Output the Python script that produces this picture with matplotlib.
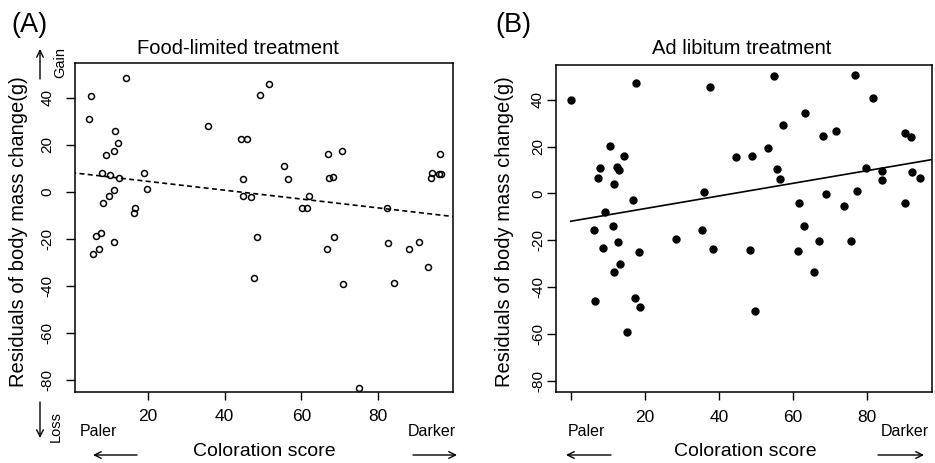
import matplotlib.pyplot as plt
import numpy as np

plt.rcParams['font.family'] = ['Liberation Sans', 'DejaVu Sans']

# (A) food-limited treatment: coloration score vs residual mass change
food_x = [14.3, 5.3, 4.7, 11.5, 12.2, 11.2, 9.2, 8.1, 10.1, 12.4, 19.0, 19.7, 11.2, 9.9,
          8.3, 16.7, 16.5, 6.4, 7.9, 11.2, 5.6, 7.2, 35.6, 44.2, 45.9, 44.8, 44.8, 46.8,
          48.5, 49.2, 51.6, 55.5, 56.4, 62.0, 60.2, 61.4, 67.0, 70.6, 67.1, 68.3, 82.4,
          68.5, 66.7, 82.7, 88.0, 90.7, 96.1, 94.0, 95.8, 96.3, 93.7, 47.6, 70.8, 84.1,
          93.0, 75.1]
food_y = [48.4, 40.9, 31.2, 26.0, 20.9, 17.4, 15.6, 8.1, 7.4, 6.0, 8.1, 1.1, 0.7, -1.8,
          -4.5, -6.9, -9.1, -18.6, -17.4, -21.4, -26.5, -24.1, 28.2, 22.7, 22.7, 5.7, -1.8,
          -2.1, -19.3, 41.3, 46.1, 11.1, 5.5, -1.8, -6.7, -6.7, 16.0, 17.4, 6.0, 6.4, -6.9,
          -19.3, -24.1, -21.8, -24.1, -21.4, 16.0, 8.2, 7.8, 7.8, 6.0, -36.7, -39.0, -38.6,
          -31.9, -83.4]
food_fit = (8.26, -0.188)  # intercept, slope (dashed line)

# (B) ad libitum treatment
adlib_x = [0.0, 17.7, 37.6, 10.7, 14.3, 8.0, 12.6, 12.9, 7.3, 11.7, 44.6, 36.0, 16.8, 9.2,
           6.3, 11.5, 12.7, 8.7, 18.3, 28.5, 35.4, 38.5, 13.3, 11.7, 6.6, 17.4, 18.8, 15.2,
           48.5, 49.9, 61.4, 63.0, 65.8, 67.0, 75.8, 61.8, 73.9, 90.4, 54.9, 76.8, 81.8,
           63.2, 57.4, 68.2, 71.6, 90.3, 91.9, 53.4, 48.9, 55.8, 56.6, 79.8, 84.1, 84.1,
           92.3, 94.4, 69.1, 77.3]
adlib_y = [40.1, 47.0, 45.4, 20.4, 16.0, 10.8, 11.3, 10.1, 6.7, 4.1, 15.6, 0.4, -2.9, -8.1,
           -15.7, -14.1, -20.7, -23.4, -24.9, -19.7, -15.7, -23.7, -30.2, -33.6, -45.9,
           -44.7, -48.4, -59.3, -24.3, -50.3, -24.6, -13.9, -33.6, -20.2, -20.2, -4.2, -5.3,
           -3.9, 50.0, 50.4, 40.7, 34.3, 29.1, 24.6, 26.8, 25.8, 24.3, 19.4, 16.0, 10.6,
           6.0, 11.0, 9.6, 5.7, 9.3, 6.4, -0.3, 0.9]
adlib_fit = (-11.9, 0.27)

yticks = [-80, -60, -40, -20, 0, 20, 40]

W, H = 935, 463
fig = plt.figure(figsize=(W / 100, H / 100), dpi=100)


def box(x0, y0, x1, y1):
    # pixel box measured from the top-left corner
    return [x0 / W, 1 - y1 / H, (x1 - x0) / W, (y1 - y0) / H]


def fp(x, y):
    return (x / W, 1 - y / H)


def arrow(x0, y0, x1, y1):
    fig.add_artist(plt.matplotlib.patches.FancyArrowPatch(
        fp(x0, y0), fp(x1, y1), transform=fig.transFigure, arrowstyle='->',
        mutation_scale=12, lw=1.0, color='black', shrinkA=0, shrinkB=0))


def style(ax, xlim, xticks, xlabels, ypad):
    ax.set_xlim(*xlim)
    ax.set_ylim(-85, 55)
    ax.set_xticks(xticks)
    ax.set_xticklabels(xlabels, fontsize=12.5)
    ax.set_yticks(yticks)
    ax.set_yticklabels([str(v) for v in yticks], rotation=90, va='center', fontsize=11)
    ax.tick_params(axis='x', direction='out', length=6, width=1, pad=6.5)
    ax.tick_params(axis='y', direction='out', length=6.5, width=1, pad=ypad)
    for s in ax.spines.values():
        s.set_linewidth(1.1)


# ---- panel A
ax1 = fig.add_axes(box(75, 62.7, 453.3, 391.7))
ax1.plot(food_x, food_y, 'o', mfc='none', mec='black', ms=4.3, mew=1.1)
xs = np.array([0, 100])
ax1.plot(xs, food_fit[0] + food_fit[1] * xs, color='black', lw=1.2, ls=(0, (3, 2)))
style(ax1, (1, 99.6), [20, 40, 60, 80], ['20', '40', '60', '80'], 8.5)

# ---- panel B
ax2 = fig.add_axes(box(556, 64.7, 932.3, 392.3))
ax2.plot(adlib_x, adlib_y, 'o', color='black', ms=5)
ax2.plot(xs, adlib_fit[0] + adlib_fit[1] * xs, color='black', lw=1.2)
style(ax2, (-4, 97.7), [0, 20, 40, 60, 80], ['', '20', '40', '60', '80'], 1.5)

# labels and titles
fig.text(*fp(29, 25), '(A)', fontsize=19.5, ha='center', va='center')
fig.text(*fp(513, 25), '(B)', fontsize=19.5, ha='center', va='center')
fig.text(*fp(238, 48), 'Food-limited treatment', fontsize=14.5, ha='center', va='center')
fig.text(*fp(742, 48), 'Ad libitum treatment', fontsize=14.5, ha='center', va='center')

for xc in (19, 505):
    fig.text(*fp(xc, 232), 'Residuals of body mass change(g)', fontsize=14.5,
             rotation=90, ha='center', va='center')

for xc, paler, darker, la, ra in [(264, 98, 432, (137, 93), (413, 457)),
                                   (745, 586, 905, (611, 566), (878, 924))]:
    fig.text(*fp(xc, 451), 'Coloration score', fontsize=14, ha='center', va='center')
    fig.text(*fp(paler, 432), 'Paler', fontsize=11.5, ha='center', va='center')
    fig.text(*fp(darker, 432), 'Darker', fontsize=11.5, ha='center', va='center')
    arrow(la[0], 455, la[1], 455)
    arrow(ra[0], 455, ra[1], 455)

# gain / loss indicators on panel A
arrow(40, 79, 40, 49)
arrow(40, 402, 40, 438)
fig.text(*fp(60, 63), 'Gain', fontsize=10.5, rotation=90, ha='center', va='center')
fig.text(*fp(56, 426), 'Loss', fontsize=10.5, rotation=90, ha='center', va='center')

fig.savefig('out.png', dpi=100)
